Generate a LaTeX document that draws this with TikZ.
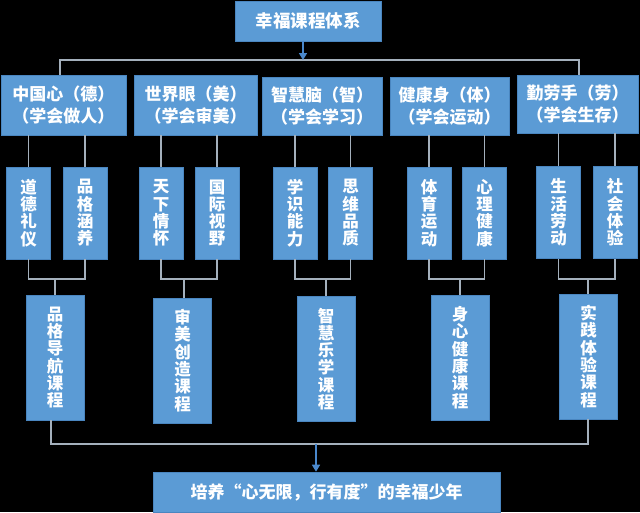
\documentclass[tikz,border=0pt]{standalone}
\usepackage{fontspec}
\newfontfamily\cjk{Noto Sans CJK SC}
\usetikzlibrary{arrows.meta}
\definecolor{boxblue}{HTML}{5B9BD5}
\definecolor{boxedge}{HTML}{4A86C0}
\definecolor{linegray}{HTML}{A4B0BC}
\definecolor{arrowblue}{HTML}{4A88CC}
\tikzset{
  box/.style={fill=boxblue, draw=boxedge, line width=0.6pt, text=white, inner sep=0pt, align=center},
  hbox/.style={box, font=\cjk\bfseries\fontsize{17}{21.5}\selectfont},
  vbox/.style={box, font=\cjk\bfseries\fontsize{16.5}{17.3}\selectfont},
  conn/.style={draw=linegray, line width=1.1pt},
  arr/.style={draw=arrowblue, line width=1.6pt, -{Triangle[length=7pt,width=8pt]}}
}
\begin{document}
\begin{tikzpicture}[x=1pt,y=-1pt]
\fill[black] (0,0) rectangle (640,512);
\useasboundingbox (0,0) rectangle (640,512);
% top
\node[hbox, font=\cjk\bfseries\fontsize{17.5}{21}\selectfont, minimum width=146pt, minimum height=40pt] (top) at (308,21) {幸福课程体系};
% level 1
\node[hbox, minimum width=125pt, minimum height=60pt] (a1) at (63.5,105) {中国心（德）\\（学会做人）};
\node[hbox, minimum width=123pt, minimum height=60pt] (a2) at (195.5,105) {世界眼（美）\\（学会审美）};
\node[hbox, minimum width=120pt, minimum height=58pt] (a3) at (322,106) {智慧脑（智）\\（学会学习）};
\node[hbox, minimum width=119pt, minimum height=58pt] (a4) at (449.5,106) {健康身（体）\\（学会运动）};
\node[hbox, minimum width=121pt, minimum height=58pt] (a5) at (577.5,104) {勤劳手（劳）\\（学会生存）};
% level 2
\tikzset{l2/.style={vbox, minimum width=44pt, minimum height=92pt}}
\node[l2] (b11) at (28.5,213) {道\\德\\礼\\仪};
\node[l2] (b12) at (85,213) {品\\格\\涵\\养};
\node[l2] (b21) at (161,213) {天\\下\\情\\怀};
\node[l2] (b22) at (217,213) {国\\际\\视\\野};
\node[l2] (b31) at (295,213) {学\\识\\能\\力};
\node[l2] (b32) at (350.5,213) {思\\维\\品\\质};
\node[l2] (b41) at (429,213) {体\\育\\运\\动};
\node[l2] (b42) at (484.5,213) {心\\理\\健\\康};
\node[l2] (b51) at (558.5,212.5) {生\\活\\劳\\动};
\node[l2] (b52) at (615,212.5) {社\\会\\体\\验};
% level 3
\tikzset{l3/.style={vbox, minimum width=58pt, minimum height=125pt}}
\node[l3] (c1) at (55,357.5) {品\\格\\导\\航\\课\\程};
\node[l3] (c2) at (182.5,360.5) {审\\美\\创\\造\\课\\程};
\node[l3] (c3) at (326,359) {智\\慧\\乐\\学\\课\\程};
\node[l3] (c4) at (460,357.5) {身\\心\\健\\康\\课\\程};
\node[l3] (c5) at (588.5,356.5) {实\\践\\体\\验\\课\\程};
% bottom
\node[hbox, font=\cjk\bfseries\fontsize{17}{21}\selectfont, minimum width=347pt, minimum height=40pt] (bot) at (326.5,492) {培养“心无限，行有度”的幸福少年};
% top connectors
\coordinate (t) at (303,60);
\coordinate (hl) at (60,60);
\coordinate (hr) at (579,60);
\draw[conn] (a1.north -| hl) -- (hl) -- (hr) -- (a5.north -| hr);
\draw[arr] (t |- top.south) -- (t);
% level1 -> level2
\foreach \a/\b in {a1/b11,a1/b12,a2/b21,a2/b22,a3/b31,a3/b32,a4/b41,a4/b42,a5/b51,a5/b52}
  \draw[conn] (\b.north |- \a.south) -- (\b.north);
% level2 -> level3
\coordinate (j1) at (55,279);
\coordinate (j2) at (184,279);
\coordinate (j3) at (326,279);
\coordinate (j4) at (460,279);
\coordinate (j5) at (588,279);
\foreach \i in {1,...,5}{
  \draw[conn] (b\i1.south) |- (j\i) -| (b\i2.south);
  \draw[conn] (j\i) -- (c\i.north -| j\i);
}
% bottom connectors
\coordinate (bl) at (51,444);
\coordinate (br) at (588,444);
\coordinate (bm) at (316,444);
\draw[conn] (c1.south -| bl) -- (bl) -- (br) -- (c5.south -| br);
\draw[arr] (bm) -- (bm |- bot.north);
\end{tikzpicture}
\end{document}
